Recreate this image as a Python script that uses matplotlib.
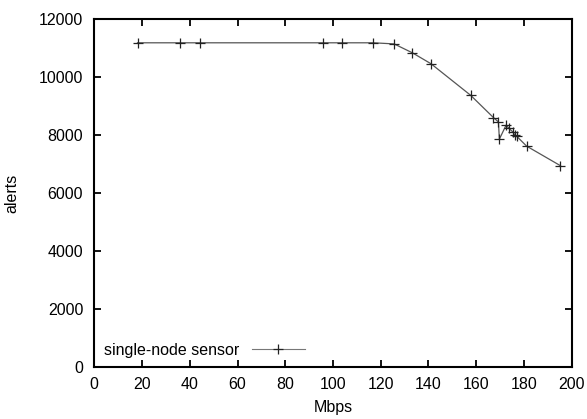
import matplotlib
matplotlib.use("Agg")
import matplotlib.pyplot as plt

mbps = [18.1, 36.1, 44.4, 95.9, 103.7, 116.9, 125.6, 133.3, 141.1, 157.7,
        167.2, 169.3, 169.7, 172.5, 173.8, 175.3, 176.2, 176.9, 181.1, 195.3]
alerts = [11180, 11180, 11180, 11180, 11180, 11180, 11142, 10833, 10456, 9369,
          8605, 8454, 7861, 8341, 8228, 8111, 7998, 7964, 7621, 6945]

xticks = [0, 20, 40, 60, 80, 100, 120, 140, 160, 180, 200]
yticks = [0, 2000, 4000, 6000, 8000, 10000, 12000]

plt.rcParams['font.family'] = ['Liberation Sans', 'DejaVu Sans']
fig = plt.figure(figsize=(5.87, 4.19), dpi=100)
ax = fig.add_axes([94.3/587, 1-367.3/419, (571.7-94.3)/587, (367.3-19)/419])

ax.plot(mbps, alerts, color='#555555', lw=0.9, marker='+', ms=6.5, mew=0.9,
        mec='#222222', label='single-node sensor')

ax.set_xlim(0, 200)
ax.set_ylim(0, 12000)
ax.set_xticks(xticks)
ax.set_yticks(yticks)
ax.tick_params(direction='in', top=True, right=True, length=5, width=1.3,
               labelsize=11.5, colors='black')
ax.tick_params(axis='x', pad=7)
ax.tick_params(axis='y', pad=8)
for s in ax.spines.values():
    s.set_linewidth(1.5)
ax.set_xlabel('Mbps', fontsize=11.5, labelpad=6)
ax.set_ylabel('alerts', fontsize=11.5, labelpad=14)

leg = ax.legend(loc='lower left', frameon=False, fontsize=11.5, handlelength=3.3,
                markerfirst=False, borderaxespad=0.2, handletextpad=0.8,
                borderpad=0.4)
for h in leg.legend_handles:
    h.set_color('#777777')
    h.set_linewidth(0.8)

fig.savefig('out.png', dpi=100)
